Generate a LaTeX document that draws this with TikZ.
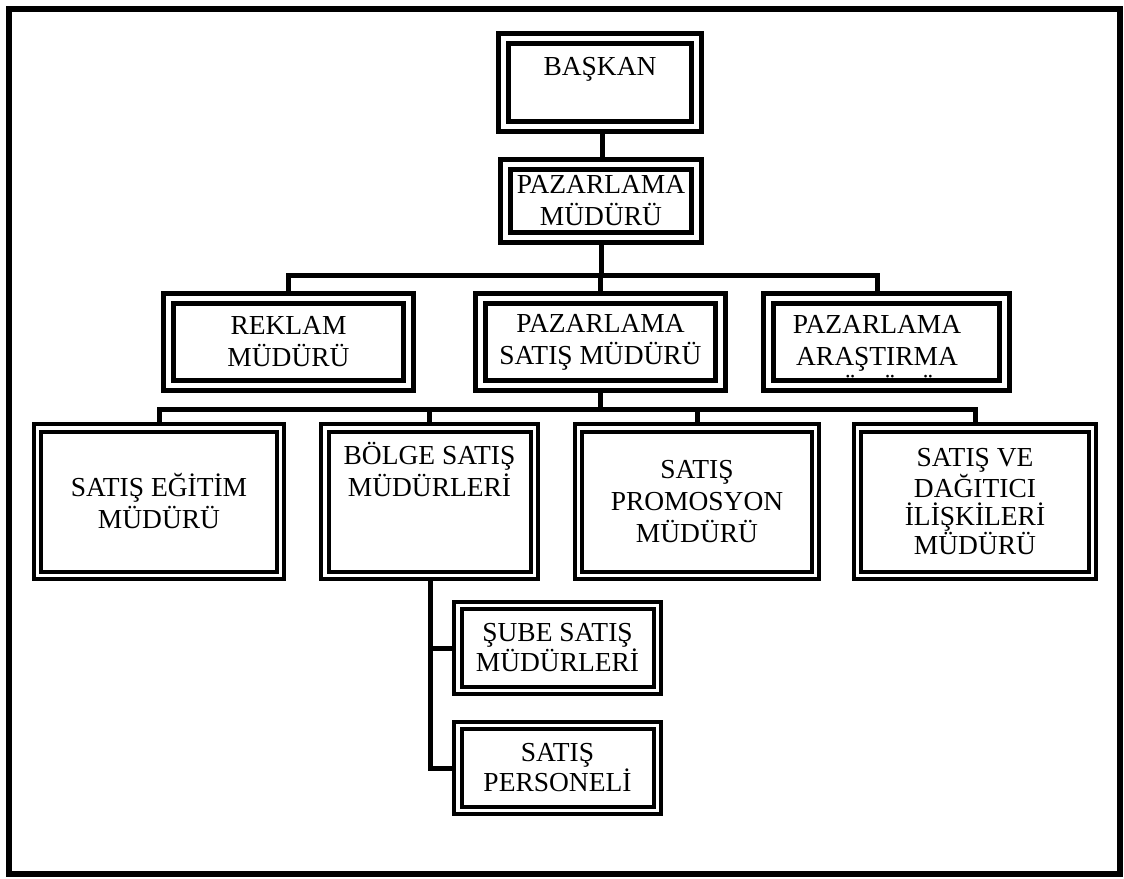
\documentclass[tikz,border=0pt]{standalone}
\usepackage{fontspec}
\setmainfont{Liberation Serif}
\usetikzlibrary{backgrounds}

\tikzset{
  orgfont/.style={font=\fontsize{20.6pt}{24pt}\selectfont, align=center},
  % double-ruled boxes: upper levels have heavier rules
  bigbox/.style={draw=black, double=white, line width=3.75pt, double distance=3.75pt,
                 inner sep=0pt, outer sep=0pt, orgfont},
  smallbox/.style={draw=black, double=white, line width=3pt, double distance=2.6pt,
                   inner sep=0pt, outer sep=0pt, orgfont},
  conn/.style={draw=black, line width=3.75pt, line join=miter},
  frame/.style={draw=black, line width=4.5pt}
}

\begin{document}
\begin{tikzpicture}[x=0.75pt, y=-0.75pt]
\useasboundingbox (0,0) rectangle (1124,878);
\draw[frame] (9,9) rectangle (1120,874);

% level 1 and 2
\node[bigbox, minimum width=144.75pt, minimum height=66pt] (bsk) at (600,82.5) {BAŞKAN\\\mbox{}};
\node[bigbox, minimum width=143.25pt, minimum height=54.75pt] (pzm) at (601,201) {PAZARLAMA\\MÜDÜRÜ};

% level 3
\node[bigbox, minimum width=180pt, minimum height=65.25pt] (rek) at (288.5,342) {REKLAM\\MÜDÜRÜ};
\node[bigbox, minimum width=180pt, minimum height=65.25pt] (pss) at (600.5,342) {PAZARLAMA\\SATIŞ MÜDÜRÜ};
\node[bigbox, minimum width=177pt, minimum height=65.25pt] (ara) at (886.5,342) {};
% the third line does not fit and is cut off by the inner rule
\begin{scope}
  \clip (776,306) rectangle (997,378.5);
  \node[orgfont, inner sep=0pt, anchor=north] (aratx) at (877,315.5)
    {PAZARLAMA\\ARAŞTIRMA\\MÜDÜRÜ};
\end{scope}

% level 4
\node[smallbox, minimum width=181.9pt, minimum height=110.6pt] (sem) at (159,501.5) {SATIŞ EĞİTİM\\MÜDÜRÜ};
\node[smallbox, minimum width=157.1pt, minimum height=110.6pt] (bol) at (429.5,501.5) {BÖLGE SATIŞ\\MÜDÜRLERİ\\\mbox{}\\\mbox{}};
\node[smallbox, minimum width=177.4pt, minimum height=110.6pt] (prm) at (697,501.5) {SATIŞ\\PROMOSYON\\MÜDÜRÜ};
\node[smallbox, minimum width=175.9pt, minimum height=110.6pt, font=\fontsize{20.6pt}{21.5pt}\selectfont] (sdi) at (975,501.5) {SATIŞ VE\\DAĞITICI\\İLİŞKİLERİ\\MÜDÜRÜ};

% level 5
\node[smallbox, minimum width=149.6pt, minimum height=63.4pt, font=\fontsize{20.6pt}{22.5pt}\selectfont] (sub) at (557.5,648) {ŞUBE SATIŞ\\MÜDÜRLERİ};
\node[smallbox, minimum width=149.6pt, minimum height=63.4pt, font=\fontsize{20.6pt}{22.5pt}\selectfont] (per) at (557.5,768) {SATIŞ\\PERSONELİ};

\coordinate (b1) at (601,275);
\coordinate (b2) at (601,409);

\begin{scope}[on background layer]
  \draw[conn] (bsk.south -| 602,0) -- (pzm.north -| 602,0);
  \draw[conn] (pzm.south) -- (pzm.south |- b1);
  \draw[conn] (rek.north) |- (b1) -| ([xshift=-7.125pt]ara.north);
  \draw[conn] (pss.north) -- (pss.north |- b1);

  \draw[conn] (pss.south) -- (pss.south |- b2);
  \draw[conn] (sem.north) |- (b2) -| (sdi.north);
  \draw[conn] (bol.north) -- (bol.north |- b2);
  \draw[conn] (prm.north) -- (prm.north |- b2);

  \draw[conn] ([xshift=1.1pt]bol.south) |- (per.west);
  \draw[conn] ([xshift=1.1pt]bol.south |- sub.west) -- (sub.west);
\end{scope}
\end{tikzpicture}
\end{document}
